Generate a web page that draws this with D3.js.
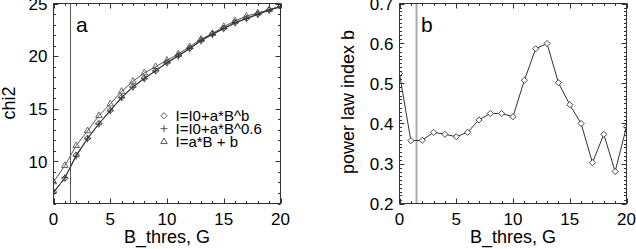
<!DOCTYPE html>
<html>
<head>
<meta charset="utf-8">
<script src="https://cdn.jsdelivr.net/npm/d3@7"></script>
<style>
  body { margin: 0; background: #fff; }
  text { font-family: 'Liberation Sans', Arial, sans-serif; fill: #000; }
</style>
</head>
<body>
<div class="chart"></div>
<script>
let width = 636;
let height = 249;

// data
let bThres = d3.range(0, 21);
let chiPow = [7.1, 8.4, 10.6, 12.2, 13.6, 14.85, 16.1, 17.1, 17.9, 18.6, 19.4, 20.05, 20.75, 21.5, 22.1, 22.65, 23.2, 23.6, 24.0, 24.4, 24.7];
let chiFix = [7.0, 8.45, 10.5, 12.15, 13.55, 14.8, 16.05, 17.05, 17.85, 18.6, 19.35, 20.0, 20.7, 21.45, 22.05, 22.6, 23.15, 23.55, 23.95, 24.35, 24.7];
let chiLin = [8.05, 9.6, 11.5, 12.9, 14.35, 15.45, 16.65, 17.6, 18.4, 19.0, 19.6, 20.2, 20.9, 21.6, 22.15, 22.8, 23.35, 23.8, 24.1, 24.4, 24.75];
let indexB = [0.525, 0.357, 0.358, 0.378, 0.373, 0.367, 0.378, 0.409, 0.425, 0.425, 0.417, 0.508, 0.587, 0.600, 0.502, 0.447, 0.400, 0.302, 0.373, 0.280, 0.392];
let legendLabels = ['I=I0+a*B^b', 'I=I0+a*B^0.6', 'I=a*B + b'];
let xTicks = [0, 5, 10, 15, 20];
let yTicksA = [10, 15, 20, 25];
let yTicksB = [0.2, 0.3, 0.4, 0.5, 0.6, 0.7];
let bCut = 1.5;

let svg = d3.select('.chart')
            .append('svg')
            .attr('width', width)
            .attr('height', height);

let symDiamond = d3.symbol().type(d3.symbolDiamond2).size(24);
let symPlus = d3.symbol().type(d3.symbolPlus || d3.symbolCross2).size(18);
let symTri = d3.symbol().type(d3.symbolTriangle2).size(30);

function drawFrame(g, x, y, xMinor, yMinor, yFormat, yTicks) {
  let [x0, x1] = x.range();
  let [y0, y1] = y.range();
  // minor + major ticks, inward on all four sides
  let tk = g.append('g').attr('stroke', '#333').attr('stroke-width', 1);
  xMinor.forEach(v => {
    let len = xTicks.includes(v) ? 5 : 2.5;
    let px = Math.round(x(v)) + 0.5;
    tk.append('line').attr('x1', px).attr('x2', px).attr('y1', y0).attr('y2', y0 - len);
    tk.append('line').attr('x1', px).attr('x2', px).attr('y1', y1).attr('y2', y1 + len);
  });
  yMinor.forEach(v => {
    let len = yTicks.some(t => Math.abs(t - v) < 1e-6) ? 5 : 2.5;
    let py = Math.round(y(v)) + 0.5;
    tk.append('line').attr('x1', x0).attr('x2', x0 + len).attr('y1', py).attr('y2', py);
    tk.append('line').attr('x1', x1).attr('x2', x1 - len).attr('y1', py).attr('y2', py);
  });
  g.append('rect')
   .attr('x', x0).attr('y', y1)
   .attr('width', x1 - x0).attr('height', y0 - y1)
   .attr('fill', 'none').attr('stroke', '#333').attr('stroke-width', 1);

  g.selectAll('.xlab')
   .data(xTicks)
   .enter()
   .append('text')
   .attr('x', d => x(d))
   .attr('y', 225)
   .attr('text-anchor', 'middle')
   .style('font-size', '17px')
   .text(d => d);
  g.selectAll('.ylab')
   .data(yTicks)
   .enter()
   .append('text')
   .attr('x', x0 - 6)
   .attr('y', d => y(d))
   .attr('dy', '0.36em')
   .attr('text-anchor', 'end')
   .style('font-size', '17px')
   .text(yFormat);
  g.append('text')
   .attr('x', (x0 + x1) / 2)
   .attr('y', 243)
   .attr('text-anchor', 'middle')
   .style('font-size', '18px')
   .text('B_thres, G');
}

// ---------- panel a ----------
let xA = d3.scaleLinear().domain([0, 20]).range([53.5, 280.5]);
let yA = d3.scaleLinear().domain([6, 25]).range([203.5, 3.5]);
let gA = svg.append('g');
svg.append('clipPath').attr('id', 'clipA')
   .append('rect').attr('x', 53.5).attr('y', 3.5).attr('width', 227).attr('height', 200);

let plotA = gA.append('g').attr('clip-path', 'url(#clipA)');
plotA.append('line')
     .attr('x1', xA(bCut)).attr('x2', xA(bCut))
     .attr('y1', yA(6)).attr('y2', yA(25))
     .attr('stroke', '#555').attr('stroke-width', 1);

let line = (xs, ys) => d3.line().x((d, i) => xs(bThres[i])).y(d => ys(d));
let seriesA = [
  { vals: chiLin, sym: symTri, col: '#555' },
  { vals: chiFix, sym: symPlus, col: '#333' },
  { vals: chiPow, sym: symDiamond, col: '#333' }
];
seriesA.forEach(s => {
  plotA.append('path')
       .datum(s.vals)
       .attr('d', line(xA, yA))
       .attr('fill', 'none')
       .attr('stroke', s.col)
       .attr('stroke-width', 1);
});
seriesA.forEach(s => {
  plotA.selectAll(null)
       .data(s.vals)
       .enter()
       .append('path')
       .attr('d', s.sym)
       .attr('transform', (d, i) => 'translate(' + xA(bThres[i]) + ',' + yA(d) + ')')
       .attr('fill', 'none')
       .attr('stroke', s.col)
       .attr('stroke-width', 0.9);
});

drawFrame(gA, xA, yA, d3.range(0, 21), d3.range(6, 26), d => d, yTicksA);

gA.append('text')
  .attr('transform', 'rotate(-90)')
  .attr('x', -103)
  .attr('y', 15)
  .attr('text-anchor', 'middle')
  .style('font-size', '18px')
  .text('chi2');
gA.append('text')
  .attr('x', 76)
  .attr('y', 31.5)
  .style('font-size', '21px')
  .text('a');

let legendSyms = [symDiamond, symPlus, symTri];
let legend = gA.selectAll('.legend-label')
  .data(legendLabels)
  .enter()
  .append('g')
  .attr('class', 'legend-label')
  .attr('transform', (d, i) => 'translate(0,' + (115.7 + i * 13) + ')');
legend.append('path')
  .attr('d', (d, i) => legendSyms[i]())
  .attr('transform', 'translate(164,0)')
  .attr('fill', 'none')
  .attr('stroke', '#444')
  .attr('stroke-width', 0.9);
legend.append('text')
  .attr('x', 175.5)
  .attr('dy', '0.36em')
  .style('font-size', '15px')
  .text(d => d);

// ---------- panel b ----------
let xB = d3.scaleLinear().domain([0, 20]).range([399.5, 626.5]);
let yB = d3.scaleLinear().domain([0.2, 0.7]).range([203.5, 3.5]);
let gB = svg.append('g');
svg.append('clipPath').attr('id', 'clipB')
   .append('rect').attr('x', 399.5).attr('y', 3.5).attr('width', 227).attr('height', 200);
let plotB = gB.append('g').attr('clip-path', 'url(#clipB)');
plotB.append('line')
     .attr('x1', xB(bCut)).attr('x2', xB(bCut))
     .attr('y1', yB(0.2)).attr('y2', yB(0.7))
     .attr('stroke', '#aaa').attr('stroke-width', 2);
plotB.append('path')
     .datum(indexB)
     .attr('d', line(xB, yB))
     .attr('fill', 'none')
     .attr('stroke', '#333')
     .attr('stroke-width', 1);
plotB.selectAll(null)
     .data(indexB)
     .enter()
     .append('path')
     .attr('d', symDiamond)
     .attr('transform', (d, i) => 'translate(' + xB(bThres[i]) + ',' + yB(d) + ')')
     .attr('fill', '#fff')
     .attr('stroke', '#333')
     .attr('stroke-width', 0.9);

drawFrame(gB, xB, yB, d3.range(0, 21), d3.range(20, 71).map(v => v / 100), d3.format('.1f'), yTicksB);

gB.append('text')
  .attr('transform', 'rotate(-90)')
  .attr('x', -102)
  .attr('y', 354)
  .attr('text-anchor', 'middle')
  .style('font-size', '18px')
  .text('power law index b');
gB.append('text')
  .attr('x', 421)
  .attr('y', 31.5)
  .style('font-size', '21px')
  .text('b');
</script>
</body>
</html>
